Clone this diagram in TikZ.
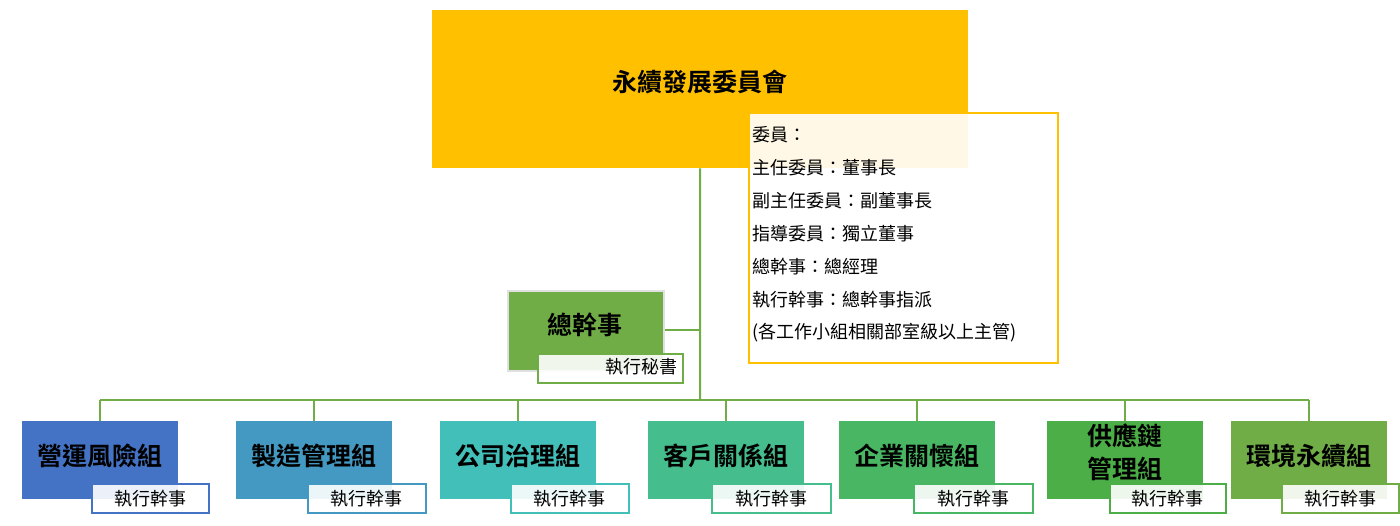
\documentclass[tikz,border=0pt]{standalone}
\usepackage{fontspec}
\setmainfont{Noto Sans CJK TC}[BoldFont={Noto Sans CJK TC Bold}]
\definecolor{cgold}{HTML}{FFC000}
\definecolor{cline}{HTML}{70AD47}
\definecolor{c1}{HTML}{4472C4}
\definecolor{c2}{HTML}{4399C1}
\definecolor{c3}{HTML}{43BFB9}
\definecolor{c4}{HTML}{45BD8D}
\definecolor{c5}{HTML}{48B663}
\definecolor{c6}{HTML}{4CAE46}
\definecolor{c7}{HTML}{70AD47}
\begin{document}
\begin{tikzpicture}[x=1pt,y=-1pt,
  box/.style={anchor=north west,inner sep=0pt,draw=none},
  subbox/.style={anchor=north west,inner sep=0pt,line width=1.6pt,fill=white,fill opacity=0.9,minimum height=29pt},
  big/.style={font=\fontsize{25}{30}\selectfont\bfseries,inner sep=0pt,align=center},
  small/.style={font=\fontsize{18}{22}\selectfont,inner sep=0pt},
  conn/.style={draw=cline,line width=2pt}]
\useasboundingbox (0,0) rectangle (1400,526);
% top committee
\node[box,fill=cgold,minimum width=536pt,minimum height=158pt] (top) at (432,10) {};
\node[big] (toptxt) at (700,82) {永續發展委員會};
% info box
\node[box,draw=cgold,line width=2pt,fill=white,fill opacity=0.9,minimum width=309pt,minimum height=250pt] (info) at (748,112) {};
\foreach \t [count=\i from 0] in {委員：,主任委員：董事長,副主任委員：副董事長,指導委員：獨立董事,總幹事：總經理,執行幹事：總幹事指派,(各工作小組相關部室級以上主管)}
  \node[small,anchor=west] (info\i) at (752,135+33*\i) {\t};
% trunk
\coordinate (j) at (700,400);
\coordinate (jg) at (700,330);
\draw[conn] (top.south) -- (j);
% general secretary
\node[box,fill=c7,draw=black!12,line width=2pt,minimum width=156pt,minimum height=80pt] (gs) at (507,290) {};
\node[big] (gstxt) at (585,325) {總幹事};
\draw[conn] (gs.east |- jg) -- (jg);
\node[subbox,draw=c7,minimum width=145pt] (gss) at (537,353) {};
\node[small] (gsstxt) at (641,367) {執行秘書};
% bus
\coordinate (b1) at (100,400);
\coordinate (b7) at (1309,400);
\draw[conn] (b1) -- (b7);
% groups
\foreach \n/\x/\sx/\sw/\txt in {1/22/91/117/營運風險組,2/236/307/118/製造管理組,3/440/510/118/公司治理組,4/648/711/119/客戶關係組,5/839/913/119/企業關懷組,6/1047/1109/116/{供應鏈\\[-5pt]管理組},7/1231/1281/117/環境永續組}{
  \node[box,fill=c\n,minimum width=156pt,minimum height=78pt] (g\n) at (\x,421) {};
  \draw[conn] (g\n.north |- b1) -- (g\n.north);
  \node[subbox,draw=c\n,minimum width=\sw pt] (s\n) at (\sx,483) {};
  \node[small] (st\n) at (s\n.center) {執行幹事};
}
\foreach \n/\x/\txt in {1/100/營運風險組,2/314/製造管理組,3/518/公司治理組,4/726/客戶關係組,5/917/企業關懷組,7/1309/環境永續組}
  \node[big] (gt\n) at (\x,456) {\txt};
\node[big] (gt6) at (1125,452) {供應鏈\\[3pt]管理組};
\end{tikzpicture}
\end{document}
